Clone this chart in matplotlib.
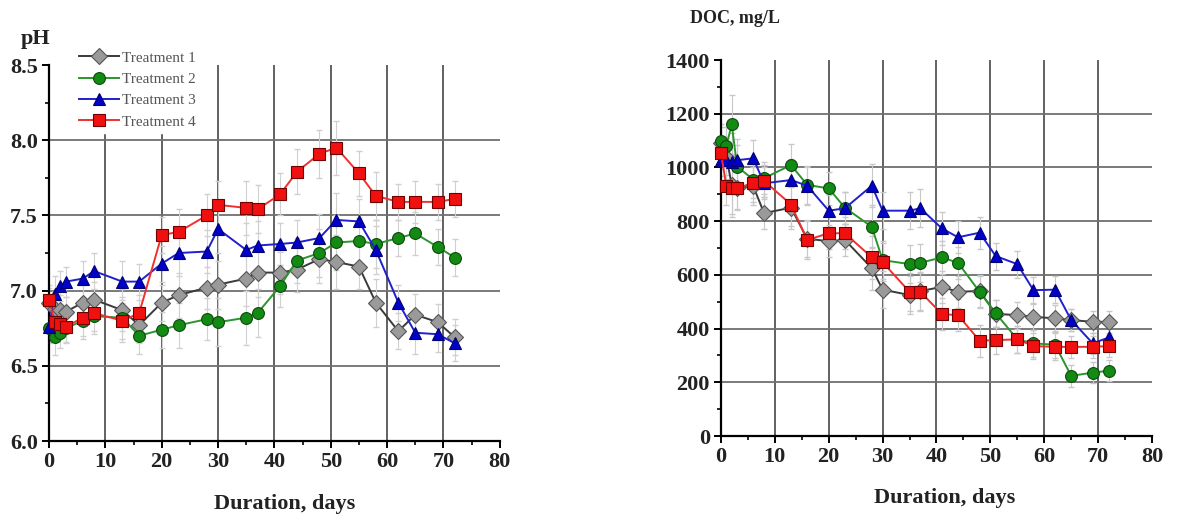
import matplotlib
matplotlib.use("Agg")
import matplotlib.pyplot as plt
from matplotlib.ticker import MultipleLocator

plt.rcParams['font.family'] = ['Liberation Serif', 'DejaVu Serif']

# sampling days (shared by every series)
days = [0, 1, 2, 3, 6, 8, 13, 16, 20, 23, 28, 30, 35, 37, 41, 44, 48, 51, 55, 58, 62, 65, 69, 72]

# pH
ph_t1 = [6.92, 6.88, 6.87, 6.86, 6.92, 6.94, 6.87, 6.77, 6.92, 6.97, 7.02, 7.04,
         7.08, 7.12, 7.12, 7.14, 7.21, 7.19, 7.16, 6.92, 6.73, 6.84, 6.79, 6.69]
ph_t2 = [6.75, 6.69, 6.72, 6.75, 6.80, 6.83, 6.82, 6.70, 6.74, 6.77, 6.81, 6.79,
         6.82, 6.85, 7.03, 7.20, 7.25, 7.32, 7.33, 7.31, 7.35, 7.38, 7.29, 7.22]
ph_t3 = [6.76, 6.98, 7.03, 7.06, 7.08, 7.13, 7.06, 7.06, 7.18, 7.25, 7.26, 7.41,
         7.27, 7.30, 7.31, 7.32, 7.35, 7.47, 7.46, 7.27, 6.92, 6.72, 6.71, 6.65]
ph_t4 = [6.94, 6.79, 6.78, 6.76, 6.82, 6.85, 6.80, 6.85, 7.37, 7.39, 7.50, 7.57,
         7.55, 7.54, 7.64, 7.79, 7.91, 7.95, 7.78, 7.63, 7.59, 7.59, 7.59, 7.61]
ph_err = [0.10, 0.12, 0.10, 0.10, 0.12, 0.12, 0.14, 0.12, 0.12, 0.15, 0.14, 0.16,
          0.18, 0.16, 0.14, 0.15, 0.16, 0.18, 0.15, 0.16, 0.12, 0.14, 0.12, 0.12]

# DOC, mg/L
doc_t1 = [1090, 1040, 935, 925, 930, 830, 850, 735, 725, 730, 625, 545,
          525, 540, 555, 537, 540, 455, 450, 444, 438, 432, 425, 425]
doc_t2 = [1100, 1080, 1160, 1003, 955, 960, 1009, 935, 922, 850, 779, 655,
          640, 645, 665, 645, 537, 457, 360, 345, 340, 224, 236, 243]
doc_t3 = [1027, 1027, 1020, 1027, 1034, 941, 953, 932, 839, 848, 932, 839,
          839, 848, 773, 740, 757, 670, 640, 543, 545, 432, 345, 367]
doc_t4 = [1055, 930, 925, 922, 943, 950, 862, 730, 755, 755, 665, 647,
          537, 537, 454, 450, 355, 357, 360, 335, 332, 332, 332, 335]
doc_err = [60, 70, 110, 80, 70, 60, 80, 70, 60, 60, 80, 70,
           70, 70, 60, 60, 60, 50, 50, 50, 50, 40, 40, 40]

labels = ["Treatment 1", "Treatment 2", "Treatment 3", "Treatment 4"]
styles = [
    dict(color="#3a3a3a", marker="D", mfc="#9a9a9a", mec="#555555", ms=8),
    dict(color="#2a962a", marker="o", mfc="#138a13", mec="#0b4a0b", ms=8.5),
    dict(color="#2020d0", marker="^", mfc="#0000c8", mec="#000070", ms=9),
    dict(color="#f03030", marker="s", mfc="#f01010", mec="#700000", ms=8),
]

fig = plt.figure(figsize=(12.02, 5.16), dpi=100)
ax1 = fig.add_axes([0.0408, 0.1453, 0.375, 0.7287])
ax2 = fig.add_axes([0.5998, 0.155, 0.3586, 0.7287])


def style_axes(ax, yticks):
    ax.set_xlim(0, 80)
    ax.set_ylim(yticks[0], yticks[-1])
    ax.set_xticks(range(0, 81, 10))
    ax.set_yticks(yticks)
    ax.xaxis.set_minor_locator(MultipleLocator(5))
    ax.yaxis.set_minor_locator(MultipleLocator((yticks[1] - yticks[0]) / 2))
    for x in range(10, 80, 10):
        ax.axvline(x, color="#555555", lw=1.3, zorder=0)
    for y in yticks[1:-1]:
        ax.axhline(y, color="#707070", lw=1.3, zorder=0)
    for s in ["top", "right"]:
        ax.spines[s].set_visible(False)
    for s in ["left", "bottom"]:
        ax.spines[s].set_linewidth(1.6)
    ax.tick_params(which="major", direction="out", length=5, width=1.4,
                   labelsize=16, pad=3)
    ax.tick_params(which="minor", direction="out", length=3, width=1.2)
    for lab in ax.get_xticklabels() + ax.get_yticklabels():
        lab.set_fontweight("bold")
        lab.set_color("#222222")


style_axes(ax1, [6.0, 6.5, 7.0, 7.5, 8.0, 8.5])
ax1.set_yticklabels(["6.0", "6.5", "7.0", "7.5", "8.0", "8.5"])
for lab in ax1.get_yticklabels():
    lab.set_fontweight("bold")
    lab.set_color("#222222")
style_axes(ax2, [0, 200, 400, 600, 800, 1000, 1200, 1400])

for vals, lab, st in zip([ph_t1, ph_t2, ph_t3, ph_t4], labels, styles):
    ax1.errorbar(days, vals, yerr=ph_err, fmt="none", ecolor="#d0d0d0",
                 elinewidth=0.8, capsize=2, zorder=1)
    ax1.plot(days, vals, lw=1.4, label=lab, zorder=3, mew=0.8,
             clip_on=False, **st)

for vals, st in zip([doc_t1, doc_t2, doc_t3, doc_t4], styles):
    ax2.errorbar(days, vals, yerr=doc_err, fmt="none", ecolor="#c8c8c8",
                 elinewidth=0.8, capsize=2, zorder=1)
    ax2.plot(days, vals, lw=1.4, zorder=3, mew=0.8, clip_on=False, **st)

leg = ax1.legend(loc="upper left", bbox_to_anchor=(0.04, 1.07), frameon=True,
                 fontsize=11, handlelength=2.6, labelspacing=0.5,
                 borderpad=0.3, handletextpad=0.2)
leg.get_frame().set_edgecolor("white")
leg.get_frame().set_facecolor("white")
leg.get_frame().set_alpha(1)
for t in leg.get_texts():
    t.set_color("#555555")

fig.text(0.017, 0.915, "pH", fontsize=16, fontweight="bold", color="#222222")
fig.text(0.574, 0.955, "DOC, mg/L", fontsize=13, fontweight="bold",
         color="#222222")
fig.text(0.237, 0.004, "Duration, days", fontsize=16, fontweight="bold",
         ha="center", va="bottom", color="#222222")
fig.text(0.786, 0.025, "Duration, days", fontsize=16, fontweight="bold",
         ha="center", color="#222222")

fig.savefig("out.png", dpi=100)
